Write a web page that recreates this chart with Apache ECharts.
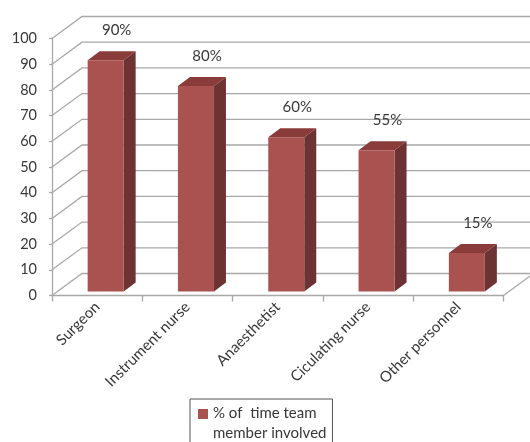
<!DOCTYPE html>
<html>
<head>
<meta charset="utf-8">
<script src="https://cdn.jsdelivr.net/npm/echarts@6/dist/echarts.min.js"></script>
<style>html,body{margin:0;padding:0;background:#fff;}#c{width:530px;height:442px;}</style>
</head>
<body>
<div id="c"></div>
<script>
var categories = ['Surgeon', 'Instrument nurse', 'Anaesthetist', 'Ciculating nurse', 'Other personnel'];
var values = [90, 80, 60, 55, 15];
var yTicks = [0, 10, 20, 30, 40, 50, 60, 70, 80, 90, 100];
var seriesName = '% of  time team\nmember involved';

var FONT = 'Lato';
var TXT = '#383838';
var GRID = '#A8A8A8';
var WDX = 30, WDY = -22;      // wall depth
var FDX = 5.5, FDY = -4;      // bar front offset
var BDX = 12, BDY = -9;       // bar depth
var BW = 36;

var chart = echarts.init(document.getElementById('c'), null, {renderer: 'canvas'});
chart.setOption({
  animation: false,
  backgroundColor: '#fff',
  grid: {left: 52, right: 26.5, top: 38.5, bottom: 146.5},
  xAxis: {
    type: 'category',
    data: categories,
    boundaryGap: true,
    axisLine: {show: true, lineStyle: {color: GRID, width: 1.3}},
    axisTick: {show: true, length: 6, lineStyle: {color: GRID, width: 1.3}},
    axisLabel: {rotate: 45, margin: 9, color: TXT, fontFamily: FONT, fontSize: 15, interval: 0},
    splitLine: {show: false}
  },
  yAxis: {
    type: 'value',
    min: 0, max: 100, interval: 10,
    axisLine: {show: true, lineStyle: {color: GRID, width: 1.3}},
    axisTick: {show: true, length: 3, lineStyle: {color: GRID, width: 1.3}},
    axisLabel: {margin: 15, color: TXT, fontFamily: FONT, fontSize: 14.5},
    splitLine: {show: false}
  },
  legend: {
    show: true,
    left: 190, top: 399,
    orient: 'vertical',
    padding: [4, 6, 10, 8],
    borderColor: '#555',
    borderWidth: 1,
    itemWidth: 10, itemHeight: 28,
    itemGap: 5,
    icon: 'path://M0,0h10v10h-10z M0,27.99h0.01v0.01h-0.01z',
    textStyle: {color: TXT, fontFamily: FONT, fontSize: 15, lineHeight: 20},
    data: [seriesName]
  },
  series: [
    {
      type: 'custom',
      name: 'walls',
      silent: true,
      z: 1,
      data: yTicks.map(function (v) { return [0, v]; }),
      renderItem: function (params, api) {
        var cs = params.coordSys;
        var v = api.value(1);
        var y = api.coord([0, v])[1];
        var x0 = cs.x, x1 = cs.x + cs.width;
        var ls = {stroke: GRID, lineWidth: 1.3, fill: null};
        var children = [{
          type: 'polyline',
          shape: {points: [[x0, y], [x0 + WDX, y + WDY], [x1 + WDX + 5, y + WDY]]},
          style: ls
        }];
        if (v === 0) {
          children.push({type: 'line', shape: {x1: x1, y1: y, x2: x1 + WDX, y2: y + WDY}, style: ls});
        }
        return {type: 'group', children: children};
      }
    },
    {
      type: 'custom',
      name: seriesName,
      z: 3,
      itemStyle: {color: '#A9524F'},
      data: values.map(function (v, i) { return [i, v]; }),
      renderItem: function (params, api) {
        var i = api.value(0), v = api.value(1);
        var base = api.coord([i, 0]);
        var top = api.coord([i, v]);
        var xl = base[0] - 9.5;
        var xr = xl + BW;
        var yb = base[1] + FDY;
        var yt = top[1] + FDY;
        return {
          type: 'group',
          children: [
            {type: 'polygon', shape: {points: [[xr, yt], [xr + BDX, yt + BDY], [xr + BDX, yb + BDY], [xr, yb]]},
              style: {fill: '#6D3332'}},
            {type: 'polygon', shape: {points: [[xl, yt], [xl + BDX, yt + BDY], [xr + BDX, yt + BDY], [xr, yt]]},
              style: {fill: '#8A3C3A'}},
            {type: 'rect', shape: {x: xl, y: yt, width: BW, height: yb - yt},
              style: {fill: '#A9524F'}},
            {type: 'text', x: xl + BW / 2 + 11, y: yt - 30,
              style: {text: v + '%', fill: TXT, font: '15px ' + FONT, align: 'center', verticalAlign: 'middle'}}
          ]
        };
      }
    }
  ]
});
</script>
</body>
</html>
